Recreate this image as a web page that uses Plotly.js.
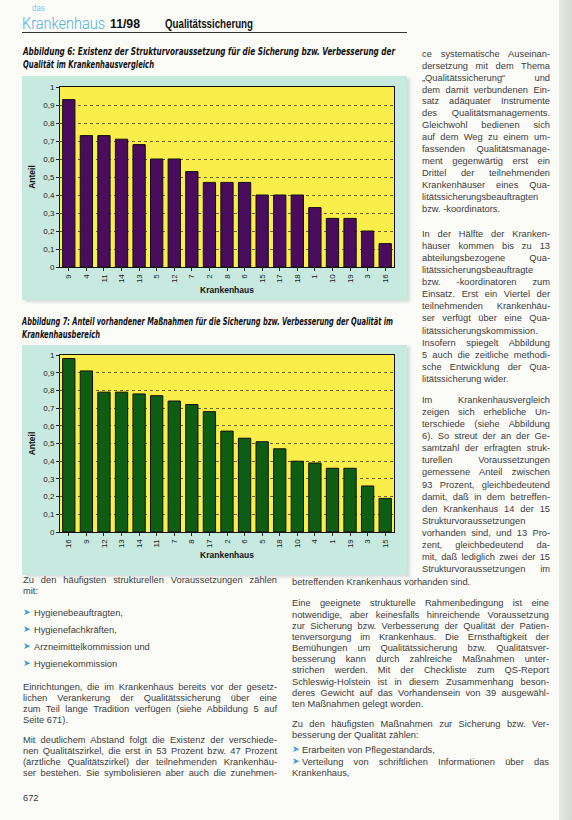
<!DOCTYPE html>
<html>
<head>
<meta charset="utf-8">
<script src="https://cdn.plot.ly/plotly-3.0.1.min.js"></script>
<style>
  html, body { margin:0; padding:0; }
  body { width:572px; height:820px; background:#fbfbf8; position:relative; overflow:hidden;
         font-family:"Liberation Sans", Arial, sans-serif; }
  .abs { position:absolute; white-space:nowrap; }
  .body { font-size:9.3px; color:#3c3c3c; line-height:12px; height:12px; }
  .cap { font-family:"Liberation Sans Narrow","DejaVu Sans Condensed","Liberation Sans",sans-serif;
         font-weight:bold; font-style:italic; font-size:10px; color:#111; line-height:12px; height:12px; }
  .panel { position:absolute; background:#c8e9df; }
  .chart { position:absolute; }
  .bullet { color:#3b9fd6; font-family:"DejaVu Sans",sans-serif; font-size:9px; }
</style>
</head>
<body>
<div class="panel" style="left:22px; top:76px; width:385px; height:224px; box-shadow:3px 2px 3px #d6dcd8;"></div>
<div class="panel" style="left:22px; top:345px; width:385px; height:230px; box-shadow:3px 2px 3px #d6dcd8;"></div>
<div id="c1" class="chart" style="left:22px; top:76px; width:385px; height:224px;"></div>
<div id="c2" class="chart" style="left:22px; top:345px; width:385px; height:230px;"></div>
<div style="position:absolute; left:22px; top:32px; width:385px; height:1px; background:#333;"></div>
<div style="position:absolute; left:559px; top:0; width:13px; height:820px; background:linear-gradient(to right,#e9ebe6,#d4d8d0);"></div>
<div id="txt"></div>
<script>
// ---------- DATA ----------
const hospitals6 = ["9","4","11","14","13","5","12","7","2","8","6","15","17","18","1","10","19","3","16"];
const share6     = [0.93,0.73,0.73,0.71,0.68,0.60,0.60,0.53,0.47,0.47,0.47,0.40,0.40,0.40,0.33,0.27,0.27,0.20,0.13];
const hospitals7 = ["16","9","12","13","14","11","7","8","17","2","6","5","18","10","4","1","19","3","15"];
const share7     = [0.98,0.91,0.79,0.79,0.78,0.77,0.74,0.72,0.68,0.57,0.53,0.51,0.47,0.40,0.39,0.36,0.36,0.26,0.19];
const yTicks     = [0,0.1,0.2,0.3,0.4,0.5,0.6,0.7,0.8,0.9,1];
const xTitle     = "Krankenhaus";
const yTitle     = "Anteil";

// ---------- CHARTS ----------
function chart(id, cats, vals, color, h, t, b) {
  const font = {family:"Liberation Sans, Arial, sans-serif", size:8, color:"#1a1a1a"};
  Plotly.newPlot(id, [{
    type:"bar", x:cats, y:vals,
    marker:{color:color, line:{color:"#111", width:1}}
  }], {
    width:385, height:h,
    margin:{l:38, r:13, t:t, b:b},
    paper_bgcolor:"rgba(0,0,0,0)", plot_bgcolor:"#fbee4a",
    separators:",.",
    bargap:0.3,
    showlegend:false,
    font:font,
    xaxis:{type:"category", tickangle:-90, ticks:"outside", ticklen:3, tickcolor:"#222",
           showline:true, linecolor:"#111", linewidth:1, mirror:true, showgrid:false,
           automargin:false, tickfont:font,
           title:{text:xTitle, standoff:4, font:{family:"Liberation Sans, Arial, sans-serif", size:8.5, color:"#111", weight:"bold"}}},
    yaxis:{range:[0,1], tickvals:yTicks, ticks:"outside", ticklen:3, tickcolor:"#222",
           showline:true, linecolor:"#111", linewidth:1, mirror:true,
           showgrid:true, gridcolor:"rgba(30,30,30,0.65)", griddash:"dot", gridwidth:1,
           zeroline:false, automargin:false, tickfont:font,
           title:{text:yTitle, standoff:6, font:{family:"Liberation Sans, Arial, sans-serif", size:8.5, color:"#111", weight:"bold"}}}
  }, {staticPlot:true, displayModeBar:false});
}
chart("c1", hospitals6, share6, "#4a0c5e", 224, 11, 33);
chart("c2", hospitals7, share7, "#0d5e12", 230, 10, 43);

// ---------- TEXT ----------
const txt = document.getElementById("txt");
function line(x, y, w, text, mode, cls, extraStyle) {
  const d = document.createElement("div");
  d.className = "abs " + cls;
  d.style.left = x + "px"; d.style.top = (y - 6) + "px";
  if (extraStyle) d.setAttribute("style", d.getAttribute("style") + ";" + extraStyle);
  const s = document.createElement("span");
  s.style.display = "inline-block";
  s.textContent = text; d.appendChild(s); txt.appendChild(d);
  const nat = s.getBoundingClientRect().width;
  s.style.transformOrigin = "0 50%";
  if (mode === "fit" || nat > w) {
    s.style.transform = "scaleX(" + (w / nat) + ")";
  } else if (mode === "J") {
    const gaps = (text.match(/ /g) || []).length;
    if (gaps) s.style.wordSpacing = ((w - nat) / gaps) + "px";
  }
  return d;
}
// header
line(32, 9, 13, "das", "fit", "", "font-family:Roboto,'Liberation Sans';font-weight:300;font-size:8.5px;color:#4fb0d8;line-height:9px;height:9px;top:4px");
line(22, 23, 83, "Krankenhaus", "fit", "", "font-family:Roboto,'Liberation Sans';font-weight:300;font-size:17px;color:#4fb0d8;line-height:16px;height:16px;top:15px");
line(110, 24, 30, "11/98", "fit", "", "font-family:'Liberation Sans Narrow','Liberation Sans';font-weight:bold;font-size:13px;color:#111;line-height:14px;top:17px");
line(165, 24, 88, "Qualitätssicherung", "fit", "", "font-family:'Liberation Sans Narrow','Liberation Sans';font-weight:bold;font-size:12px;color:#111;line-height:14px;top:17px");
// captions
line(23, 52, 372, "Abbildung 6: Existenz der Strukturvoraussetzung für die Sicherung bzw. Verbesserung der", "fit", "cap");
line(23, 65, 131, "Qualität im Krankenhausvergleich", "fit", "cap");
line(22, 322, 371, "Abbildung 7: Anteil vorhandener Maßnahmen für die Sicherung bzw. Verbesserung der Qualität im", "fit", "cap");
line(22, 335, 78, "Krankenhausbereich", "fit", "cap");

// right column
const RX = 422, RW = 128;
const right = [
 [54,"ce systematische Auseinan-","J"],
 [66,"dersetzung mit dem Thema","J"],
 [78,"„Qualitätssicherung“ und","J"],
 [90,"dem damit verbundenen Ein-","J"],
 [101,"satz adäquater Instrumente","J"],
 [113,"des Qualitätsmanagements.","J"],
 [125,"Gleichwohl bedienen sich","J"],
 [137,"auf dem Weg zu einem um-","J"],
 [149,"fassenden Qualitätsmanage-","J"],
 [161,"ment gegenwärtig erst ein","J"],
 [173,"Drittel der teilnehmenden","J"],
 [185,"Krankenhäuser eines Qua-","J"],
 [197,"litätssicherungsbeauftragten","L"],
 [209,"bzw. -koordinators.","L"],
 [234,"In der Hälfte der Kranken-","J"],
 [246,"häuser kommen bis zu 13","J"],
 [258,"abteilungsbezogene Qua-","J"],
 [270,"litätssicherungsbeauftragte","L"],
 [282,"bzw. -koordinatoren zum","J"],
 [294,"Einsatz. Erst ein Viertel der","J"],
 [306,"teilnehmenden Krankenhäu-","J"],
 [318,"ser verfügt über eine Qua-","J"],
 [331,"litätssicherungskommission.","J"],
 [343,"Insofern spiegelt Abbildung","J"],
 [355,"5 auch die zeitliche methodi-","J"],
 [367,"sche Entwicklung der Qua-","J"],
 [379,"litätssicherung wider.","L"],
 [400,"Im Krankenhausvergleich","J"],
 [412,"zeigen sich erhebliche Un-","J"],
 [424,"terschiede (siehe Abbildung","J"],
 [436,"6). So streut der an der Ge-","J"],
 [448,"samtzahl der erfragten struk-","J"],
 [460,"turellen Voraussetzungen","J"],
 [472,"gemessene Anteil zwischen","J"],
 [485,"93 Prozent, gleichbedeutend","J"],
 [497,"damit, daß in dem betreffen-","J"],
 [509,"den Krankenhaus 14 der 15","J"],
 [521,"Strukturvoraussetzungen","L"],
 [533,"vorhanden sind, und 13 Pro-","J"],
 [545,"zent, gleichbedeutend da-","J"],
 [557,"mit, daß lediglich zwei der 15","J"],
 [569,"Strukturvoraussetzungen im","J"]
];
right.forEach(r => line(RX, r[0], RW, r[1], r[2], "body"));

// bottom left column
const LX = 23, LW = 254;
const left = [
 [580,"Zu den häufigsten strukturellen Voraussetzungen zählen","J"],
 [591,"mit:","L"],
 [687,"Einrichtungen, die im Krankenhaus bereits vor der gesetz-","J"],
 [698,"lichen Verankerung der Qualitätssicherung über eine","J"],
 [709,"zum Teil lange Tradition verfügen (siehe Abbildung 5 auf","J"],
 [720,"Seite 671).","L"],
 [740,"Mit deutlichem Abstand folgt die Existenz der verschiede-","J"],
 [751,"nen Qualitätszirkel, die erst in 53 Prozent bzw. 47 Prozent","J"],
 [762,"(ärztliche Qualitätszirkel) der teilnehmenden Krankenhäu-","J"],
 [773,"ser bestehen. Sie symbolisieren aber auch die zunehmen-","J"],
 [798,"672","L"]
];
left.forEach(r => line(LX, r[0], LW, r[1], r[2], "body"));
const bulletsL = [[613,"Hygienebeauftragten,"],[630,"Hygienefachkräften,"],[647,"Arzneimittelkommission und"],[664,"Hygienekommission"]];
bulletsL.forEach(b => { line(23, b[0], 10, "➤", "L", "bullet"); line(34, b[0], 240, b[1], "L", "body"); });

// bottom right column
const BX = 292, BW = 257;
line(BX, 582, BW, "betreffenden Krankenhaus vorhanden sind.", "L", "body");
const bright = [
 [603,"Eine geeignete strukturelle Rahmenbedingung ist eine","J"],
 [615,"notwendige, aber keinesfalls hinreichende Voraussetzung","J"],
 [626,"zur Sicherung bzw. Verbesserung der Qualität der Patien-","J"],
 [637,"tenversorgung im Krankenhaus. Die Ernsthaftigkeit der","J"],
 [648,"Bemühungen um Qualitätssicherung bzw. Qualitätsver-","J"],
 [659,"besserung kann durch zahlreiche Maßnahmen unter-","J"],
 [670,"strichen werden. Mit der Checkliste zum QS-Report","J"],
 [682,"Schleswig-Holstein ist in diesem Zusammenhang beson-","J"],
 [693,"deres Gewicht auf das Vorhandensein von 39 ausgewähl-","J"],
 [704,"ten Maßnahmen gelegt worden.","L"],
 [724,"Zu den häufigsten Maßnahmen zur Sicherung bzw. Ver-","J"],
 [735,"besserung der Qualität zählen:","L"],
 [773,"Krankenhaus,","L"]
];
bright.forEach(r => line(BX, r[0], BW, r[1], r[2], "body"));
line(BX, 750, 10, "➤", "L", "bullet");
line(BX + 10, 750, 240, "Erarbeiten von Pflegestandards,", "L", "body");
line(BX, 762, 10, "➤", "L", "bullet");
line(BX + 10, 762, BW - 10, "Verteilung von schriftlichen Informationen über das", "J", "body");
</script>
</body>
</html>
